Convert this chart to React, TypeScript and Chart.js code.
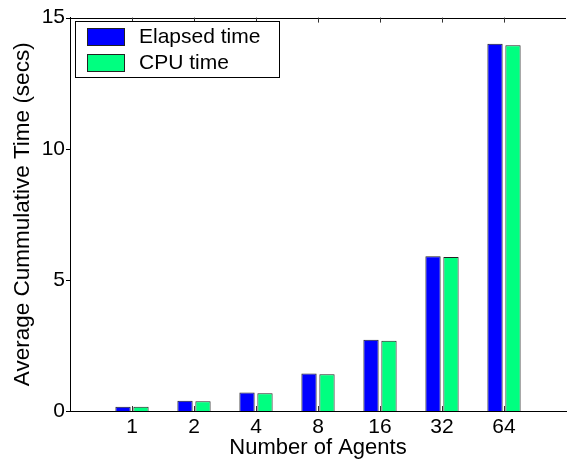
import React, { useEffect, useRef } from 'react';
import { Chart, registerables } from 'chart.js';

Chart.register(...registerables);

const agents = ['1', '2', '4', '8', '16', '32', '64'];
const elapsedTime = [0.16, 0.39, 0.71, 1.43, 2.72, 5.9, 14.0];
const cpuTime = [0.16, 0.37, 0.68, 1.4, 2.68, 5.87, 13.95];
const yTickValues = [0, 5, 10, 15];
const seriesNames = ['Elapsed time', 'CPU time'];
const seriesColors = ['#0000ff', '#00ff80'];

const FONT = "'Liberation Sans', Arial, Helvetica, sans-serif";

const matlabAxes = {
  id: 'matlabAxes',
  afterDatasetsDraw(chart: any) {
    const { ctx, chartArea, scales } = chart;
    const { left, right, top, bottom } = chartArea;
    const x = scales.x;
    const y = scales.y;
    ctx.save();
    ctx.strokeStyle = '#000';
    ctx.lineWidth = 1;
    ctx.beginPath();
    ctx.moveTo(left, Math.round(top) + 0.5);
    ctx.lineTo(right, Math.round(top) + 0.5);
    ctx.stroke();
    ctx.strokeStyle = '#333';
    for (let i = 1; i <= agents.length; i++) {
      const px = Math.round(x.getPixelForValue(i)) + 0.5;
      ctx.beginPath();
      ctx.moveTo(px, bottom);
      ctx.lineTo(px, bottom - 5);
      ctx.moveTo(px, top);
      ctx.lineTo(px, top + 5);
      ctx.stroke();
    }
    ctx.strokeStyle = '#000';
    yTickValues.forEach((v) => {
      const py = Math.round(y.getPixelForValue(v)) + 0.5;
      ctx.beginPath();
      ctx.moveTo(left - 4, py);
      ctx.lineTo(left, py);
      ctx.stroke();
    });
    const lx = 75.5, ly = 21.5, lw = 204, lh = 56;
    ctx.fillStyle = '#fff';
    ctx.fillRect(lx, ly, lw, lh);
    ctx.strokeStyle = '#000';
    ctx.strokeRect(lx, ly, lw, lh);
    ctx.font = `21px ${FONT}`;
    ctx.textBaseline = 'middle';
    ctx.textAlign = 'left';
    chart.data.datasets.forEach((ds: any, i: number) => {
      const sy = 28 + i * 26;
      ctx.fillStyle = ds.backgroundColor;
      ctx.fillRect(87, sy, 38, 18);
      ctx.strokeStyle = '#222';
      ctx.strokeRect(87.5, sy + 0.5, 37, 17);
      ctx.fillStyle = '#000';
      ctx.fillText(ds.label, 139, sy + 9.5);
    });
    ctx.restore();
  },
};

export default function App() {
  const ref = useRef<HTMLCanvasElement | null>(null);

  useEffect(() => {
    document.documentElement.style.overflow = 'hidden';
    document.body.style.overflow = 'hidden';
    document.body.style.margin = '0';
    if (!ref.current) return;
    const labels = ['', ...agents, ''];
    const chart = new Chart(ref.current, {
      type: 'bar',
      data: {
        labels,
        datasets: [
          {
            label: seriesNames[0],
            data: [null, ...elapsedTime, null],
            backgroundColor: seriesColors[0],
            borderColor: '#222',
            borderWidth: 1,
            categoryPercentage: 0.58,
            barPercentage: 0.85,
          },
          {
            label: seriesNames[1],
            data: [null, ...cpuTime, null],
            backgroundColor: seriesColors[1],
            borderColor: '#222',
            borderWidth: 1,
            categoryPercentage: 0.58,
            barPercentage: 0.85,
          },
        ],
      },
      options: {
        animation: false,
        responsive: false,
        devicePixelRatio: 1,
        layout: { padding: { top: 15, right: 0, left: 0, bottom: 0 } },
        plugins: { legend: { display: false }, tooltip: { enabled: false } },
        scales: {
          x: {
            type: 'category',
            offset: false,
            grid: { display: false, drawTicks: false },
            border: { display: true, color: '#000', width: 1 },
            ticks: {
              autoSkip: false,
              maxRotation: 0,
              color: '#000',
              padding: 4,
              font: { family: FONT, size: 21 },
            },
            title: {
              display: true,
              text: 'Number of Agents',
              color: '#000',
              font: { family: FONT, size: 22 },
              padding: { top: 0, bottom: 0 },
            },
            afterFit(scale: any) {
              scale.height = 50;
            },
          },
          y: {
            min: 0,
            max: 15,
            grid: { display: false, drawTicks: false },
            border: { display: true, color: '#000', width: 1 },
            ticks: {
              stepSize: 5,
              color: '#000',
              padding: 5,
              font: { family: FONT, size: 21 },
            },
            title: {
              display: true,
              text: 'Average Cummulative Time (secs)',
              color: '#000',
              font: { family: FONT, size: 22.5 },
              padding: { top: 9, bottom: 0 },
            },
            afterFit(scale: any) {
              scale.width = 70;
            },
          },
        },
      },
      plugins: [matlabAxes],
    });
    return () => chart.destroy();
  }, []);

  return (
    <div style={{ position: 'absolute', left: 0, top: 0, width: 570, height: 461, background: '#fff' }}>
      <canvas ref={ref} width={570} height={461} style={{ display: 'block' }} />
    </div>
  );
}
